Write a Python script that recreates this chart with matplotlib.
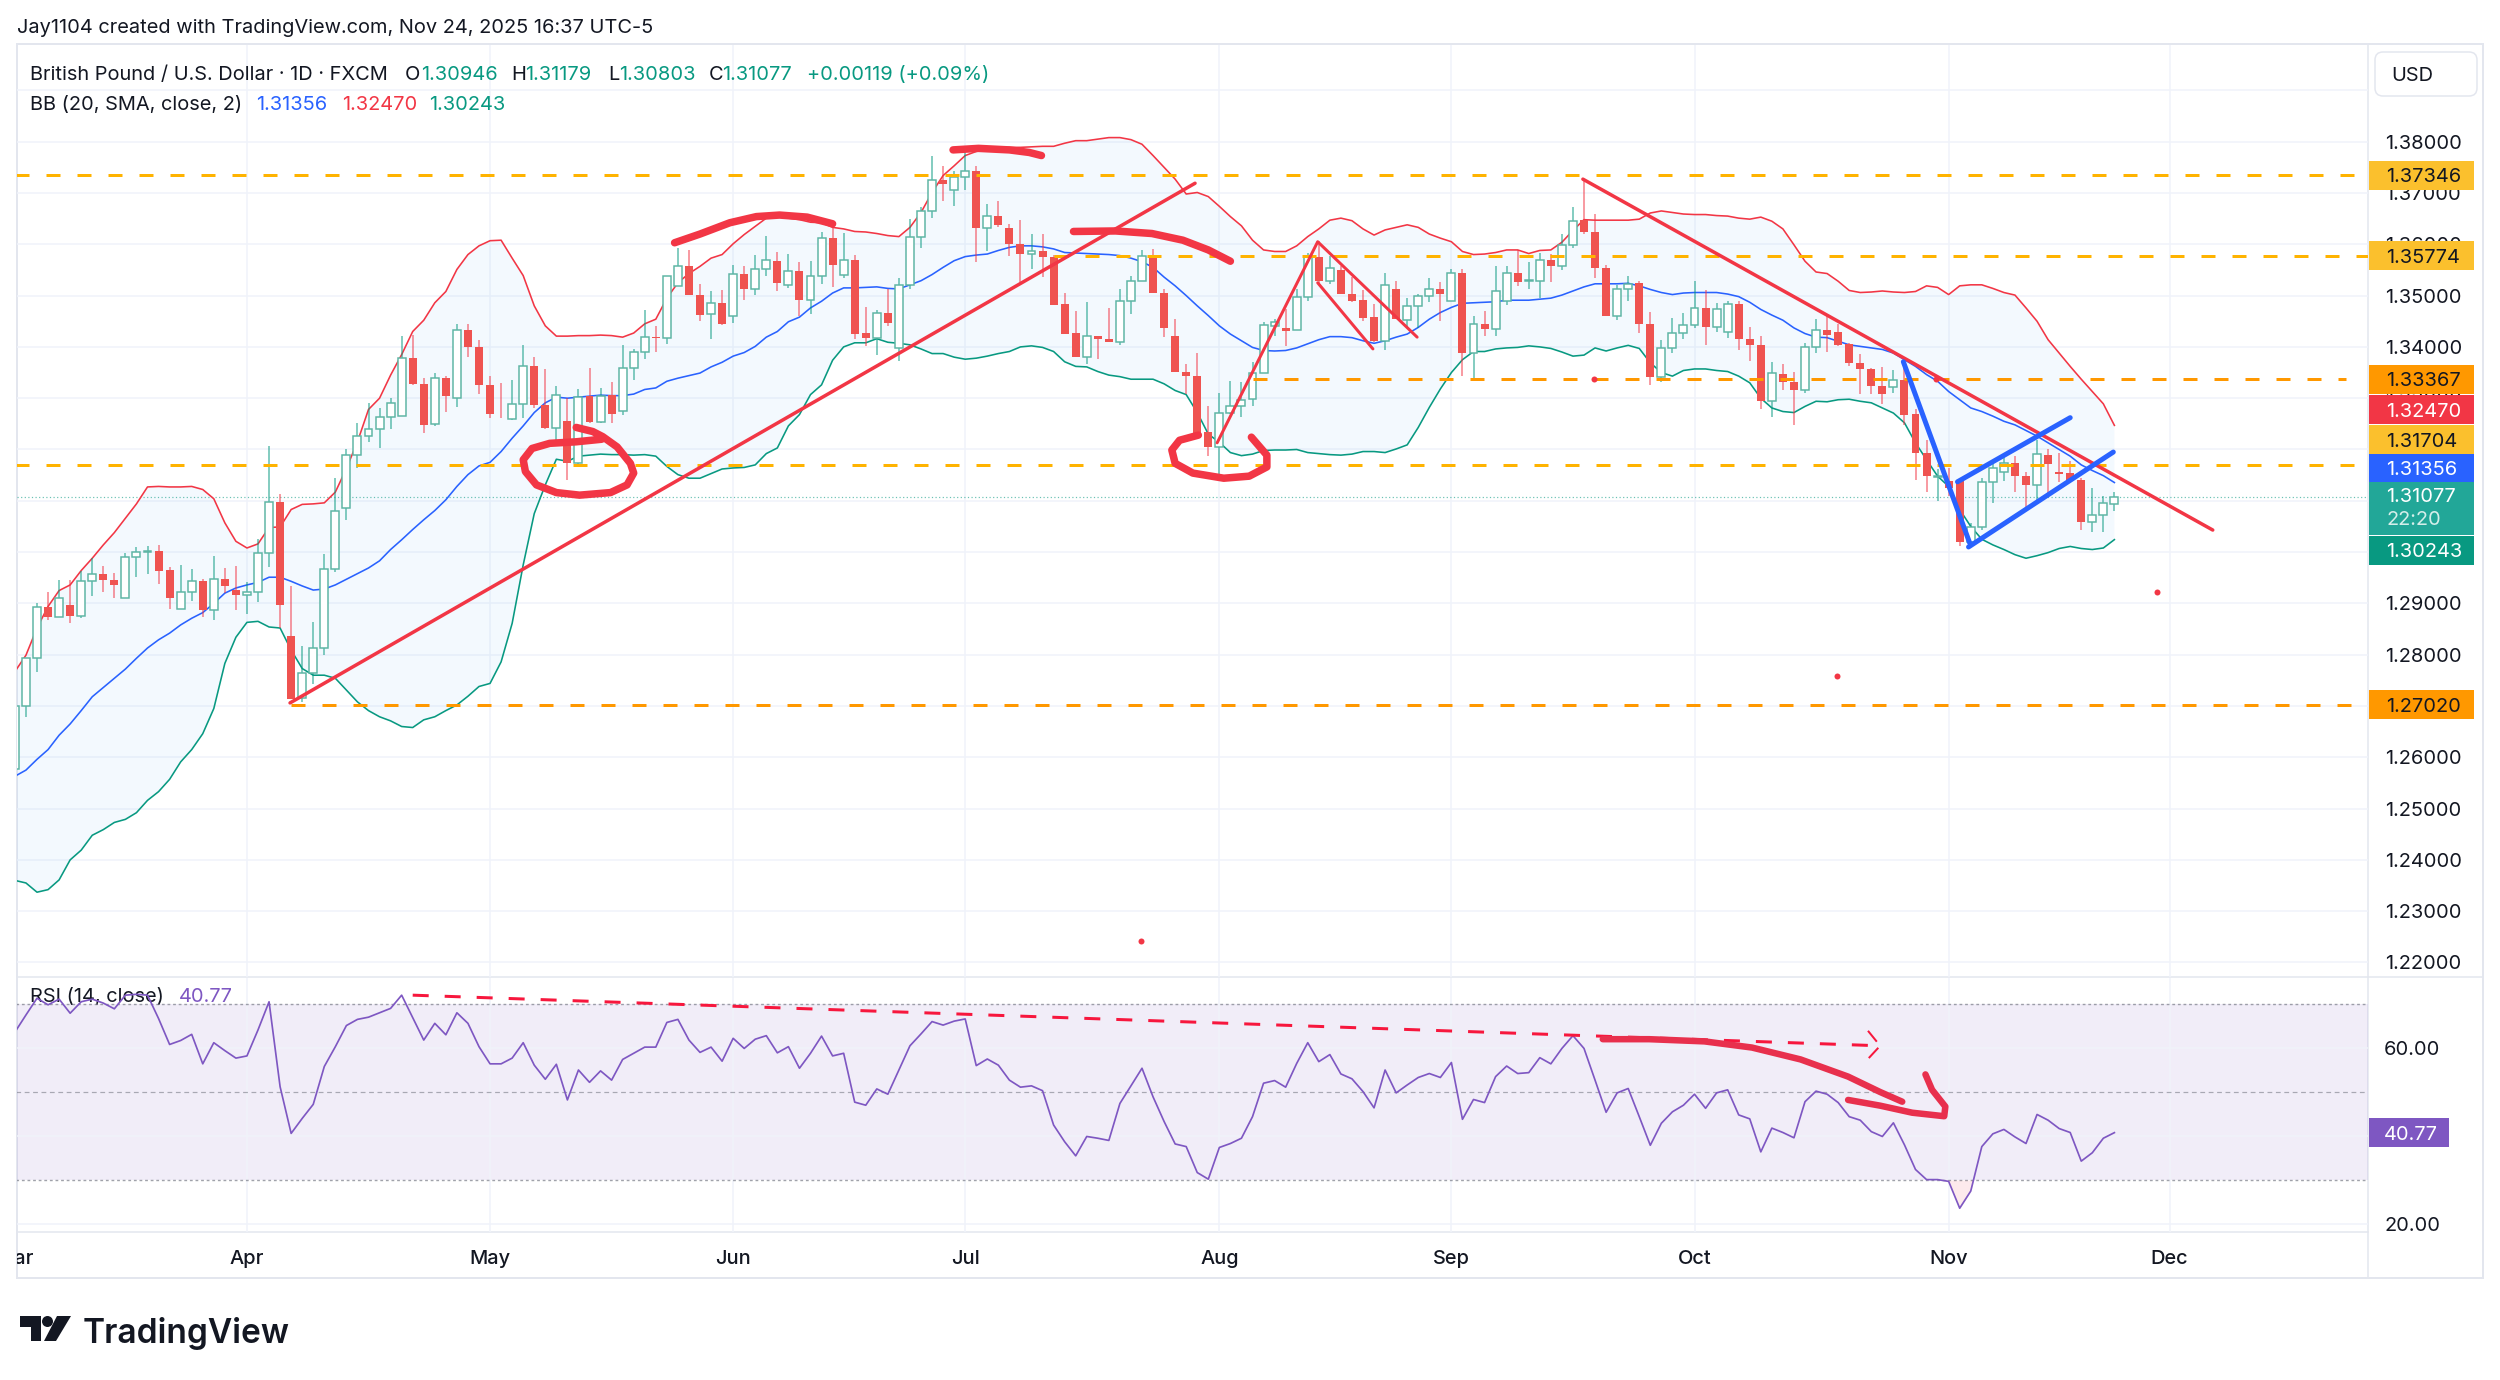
# plot.py - GBP/USD daily chart with Bollinger Bands, RSI and hand drawn markups

import numpy as np
import matplotlib
matplotlib.use("Agg")
import matplotlib.pyplot as plt
from matplotlib.patches import Polygon, Circle, Rectangle, FancyBboxPatch

plt.rcParams["font.family"] = ["Inter", "DejaVu Sans"]

W, H = 2500, 1380

# ── CANDLES (bar 0 = Apr 1, first row starts at bar -21) ───
opens = [
    1.2578,1.2700,1.2794,1.2893,1.2874,1.2896,1.2876,1.2943,1.2957,1.2945,
    1.2911,1.2990,1.3000,1.3003,1.2965,1.2889,1.2923,1.2943,1.2887,1.2947,
    1.2926,1.2917,1.2922,1.2998,1.3098,1.2837,1.2715,1.2764,1.2814,1.2967,
    1.3085,1.3189,1.3227,1.3239,1.3264,1.3265,1.3378,1.3328,1.3249,1.3339,
    1.3300,1.3432,1.3400,1.3325,1.3270,1.3260,1.3289,1.3362,1.3287,1.3242,
    1.3255,1.3174,1.3304,1.3253,1.3306,1.3276,1.3359,1.3391,1.3420,1.3417,
    1.3518,1.3557,1.3502,1.3464,1.3486,1.3461,1.3542,1.3513,1.3552,1.3568,
    1.3520,1.3548,1.3491,1.3538,1.3612,1.3540,1.3570,1.3427,1.3417,1.3466,
    1.3397,1.3521,1.3614,1.3664,1.3725,1.3706,1.3732,1.3743,1.3632,1.3656,
    1.3632,1.3601,1.3582,1.3586,1.3575,1.3484,1.3427,1.3380,1.3421,1.3415,
    1.3410,1.3489,1.3528,1.3579,1.3505,1.3421,1.3352,1.3344,1.3235,1.3204,
    1.3271,1.3284,1.3298,1.3349,1.3440,1.3436,1.3432,1.3498,1.3575,1.3529,
    1.3550,1.3503,1.3491,1.3458,1.3412,1.3513,1.3453,1.3479,1.3500,1.3513,
    1.3490,1.3544,1.3389,1.3445,1.3434,1.3489,1.3544,1.3528,1.3528,1.3570,
    1.3557,1.3599,1.3647,1.3623,1.3554,1.3460,1.3512,1.3525,1.3445,1.3341,
    1.3398,1.3427,1.3443,1.3476,1.3438,1.3430,1.3484,1.3415,1.3403,1.3295,
    1.3348,1.3332,1.3315,1.3400,1.3433,1.3429,1.3405,1.3369,1.3356,1.3324,
    1.3322,1.3336,1.3269,1.3194,1.3147,1.3139,1.3139,1.3019,1.3049,1.3137,
    1.3156,1.3174,1.3149,1.3131,1.3190,1.3157,1.3154,1.3141,1.3058,1.3072,1.30946,
]
highs = [
    1.2702,1.2794,1.2900,1.2923,1.2945,1.2946,1.2964,1.2988,1.2973,1.2960,
    1.2998,1.3009,1.3011,1.3014,1.2971,1.2975,1.2967,1.2948,1.2993,1.2969,
    1.2973,1.2941,1.3025,1.3207,1.3113,1.2934,1.2816,1.2864,1.2997,1.3144,
    1.3201,1.3252,1.3290,1.3280,1.3300,1.3422,1.3424,1.3339,1.3349,1.3343,
    1.3445,1.3445,1.3414,1.3344,1.3330,1.3336,1.3404,1.3380,1.3356,1.3323,
    1.3300,1.3317,1.3359,1.3320,1.3332,1.3404,1.3395,1.3471,1.3440,1.3539,
    1.3593,1.3588,1.3523,1.3508,1.3510,1.3560,1.3558,1.3580,1.3617,1.3585,
    1.3582,1.3565,1.3567,1.3624,1.3635,1.3622,1.3580,1.3478,1.3471,1.3512,
    1.3534,1.3649,1.3672,1.3773,1.3753,1.3742,1.3789,1.3753,1.3678,1.3684,
    1.3640,1.3647,1.3621,1.3621,1.3579,1.3506,1.3469,1.3488,1.3422,1.3476,
    1.3513,1.3539,1.3588,1.3591,1.3513,1.3454,1.3367,1.3389,1.3284,1.3311,
    1.3333,1.3332,1.3370,1.3448,1.3454,1.3474,1.3513,1.3584,1.3607,1.3578,
    1.3558,1.3536,1.3510,1.3484,1.3545,1.3529,1.3495,1.3504,1.3534,1.3526,
    1.3552,1.3552,1.3461,1.3469,1.3557,1.3558,1.3588,1.3565,1.3583,1.3582,
    1.3620,1.3672,1.3728,1.3660,1.3560,1.3521,1.3538,1.3529,1.3468,1.3413,
    1.3456,1.3467,1.3528,1.3510,1.3486,1.3490,1.3489,1.3439,1.3421,1.3371,
    1.3367,1.3352,1.3408,1.3455,1.3463,1.3445,1.3408,1.3387,1.3359,1.3361,
    1.3354,1.3375,1.3279,1.3218,1.3161,1.3164,1.3141,1.3057,1.3144,1.3177,
    1.3193,1.3187,1.3157,1.3219,1.3201,1.3193,1.3177,1.3144,1.3125,1.3110,1.31179,
]
lows = [
    1.2570,1.2679,1.2767,1.2867,1.2874,1.2861,1.2872,1.2915,1.2922,1.2911,
    1.2911,1.2951,1.2957,1.2937,1.2889,1.2889,1.2904,1.2874,1.2867,1.2920,
    1.2887,1.2880,1.2902,1.2970,1.2852,1.2714,1.2708,1.2743,1.2799,1.2962,
    1.3063,1.3164,1.3215,1.3203,1.3240,1.3265,1.3325,1.3233,1.3245,1.3274,
    1.3282,1.3380,1.3309,1.3262,1.3262,1.3258,1.3262,1.3281,1.3239,1.3211,
    1.3140,1.3166,1.3252,1.3251,1.3252,1.3267,1.3335,1.3377,1.3391,1.3406,
    1.3518,1.3502,1.3450,1.3415,1.3443,1.3447,1.3492,1.3502,1.3539,1.3508,
    1.3515,1.3460,1.3465,1.3523,1.3517,1.3534,1.3415,1.3401,1.3385,1.3441,
    1.3373,1.3513,1.3593,1.3652,1.3685,1.3675,1.3706,1.3565,1.3586,1.3633,
    1.3578,1.3526,1.3552,1.3536,1.3482,1.3425,1.3380,1.3367,1.3376,1.3409,
    1.3404,1.3464,1.3528,1.3505,1.3419,1.3352,1.3308,1.3233,1.3188,1.3144,
    1.3269,1.3263,1.3285,1.3349,1.3421,1.3402,1.3432,1.3490,1.3523,1.3523,
    1.3503,1.3488,1.3451,1.3409,1.3393,1.3454,1.3436,1.3436,1.3487,1.3450,
    1.3490,1.3344,1.3336,1.3421,1.3422,1.3482,1.3519,1.3512,1.3495,1.3526,
    1.3549,1.3593,1.3621,1.3534,1.3460,1.3453,1.3489,1.3428,1.3325,1.3331,
    1.3388,1.3415,1.3436,1.3403,1.3429,1.3417,1.3393,1.3372,1.3279,1.3263,
    1.3315,1.3248,1.3311,1.3388,1.3391,1.3401,1.3362,1.3308,1.3309,1.3289,
    1.3311,1.3248,1.3141,1.3118,1.3099,1.3109,1.3011,1.3018,1.3044,1.3096,
    1.3138,1.3117,1.3086,1.3102,1.3109,1.3136,1.3138,1.3044,1.3039,1.3039,1.30803,
]
closes = [
    1.2700,1.2794,1.2893,1.2874,1.2910,1.2876,1.2943,1.2957,1.2945,1.2935,
    1.2990,1.3001,1.3003,1.2964,1.2911,1.2923,1.2943,1.2887,1.2947,1.2933,
    1.2917,1.2922,1.2998,1.3098,1.2897,1.2714,1.2764,1.2814,1.2967,1.3081,
    1.3189,1.3227,1.3239,1.3263,1.3291,1.3378,1.3328,1.3248,1.3339,1.3304,
    1.3432,1.3399,1.3325,1.3270,1.3269,1.3289,1.3362,1.3287,1.3241,1.3306,
    1.3174,1.3302,1.3253,1.3305,1.3269,1.3359,1.3391,1.3419,1.3418,1.3539,
    1.3557,1.3502,1.3463,1.3486,1.3445,1.3542,1.3513,1.3552,1.3569,1.3524,
    1.3547,1.3491,1.3538,1.3612,1.3559,1.3570,1.3426,1.3417,1.3466,1.3447,
    1.3521,1.3614,1.3664,1.3725,1.3717,1.3732,1.3743,1.3632,1.3656,1.3638,
    1.3601,1.3581,1.3586,1.3575,1.3482,1.3425,1.3380,1.3421,1.3415,1.3409,
    1.3489,1.3528,1.3578,1.3505,1.3437,1.3352,1.3344,1.3233,1.3204,1.3272,
    1.3284,1.3297,1.3349,1.3443,1.3449,1.3431,1.3498,1.3575,1.3528,1.3553,
    1.3503,1.3490,1.3456,1.3412,1.3521,1.3454,1.3479,1.3500,1.3513,1.3503,
    1.3544,1.3389,1.3445,1.3434,1.3508,1.3544,1.3526,1.3530,1.3570,1.3557,
    1.3599,1.3645,1.3623,1.3554,1.3460,1.3512,1.3523,1.3445,1.3341,1.3398,
    1.3427,1.3443,1.3476,1.3438,1.3473,1.3484,1.3415,1.3403,1.3295,1.3350,
    1.3332,1.3315,1.3400,1.3433,1.3423,1.3404,1.3368,1.3356,1.3324,1.3309,
    1.3335,1.3268,1.3194,1.3148,1.3148,1.3125,1.3019,1.3049,1.3137,1.3163,
    1.3174,1.3148,1.3131,1.3191,1.3172,1.3153,1.3139,1.3058,1.3072,1.3096,1.31077,
]

# ── BOLLINGER BANDS ────────────────────────────────────────
bb_upper = [
    1.2767,1.2799,1.2852,1.2894,1.2925,1.2936,1.2964,1.2988,1.3014,1.3038,
    1.3066,1.3094,1.3127,1.3128,1.3127,1.3127,1.3128,1.3122,1.3104,1.3057,
    1.3021,1.3008,1.3016,1.3048,1.3049,1.3083,1.3093,1.3094,1.3096,1.3117,
    1.3163,1.3215,1.3278,1.3300,1.3345,1.3385,1.3430,1.3452,1.3486,1.3508,
    1.3551,1.3580,1.3597,1.3607,1.3608,1.3573,1.3539,1.3480,1.3441,1.3421,
    1.3421,1.3422,1.3422,1.3423,1.3422,1.3419,1.3427,1.3445,1.3454,1.3495,
    1.3525,1.3543,1.3557,1.3573,1.3580,1.3601,1.3619,1.3635,1.3651,1.3655,
    1.3651,1.3648,1.3643,1.3642,1.3633,1.3630,1.3625,1.3624,1.3621,1.3617,
    1.3615,1.3633,1.3662,1.3701,1.3734,1.3753,1.3773,1.3781,1.3787,1.3789,
    1.3789,1.3789,1.3790,1.3791,1.3791,1.3797,1.3802,1.3802,1.3805,1.3808,
    1.3808,1.3804,1.3795,1.3773,1.3750,1.3727,1.3698,1.3701,1.3693,1.3674,
    1.3654,1.3636,1.3608,1.3589,1.3586,1.3586,1.3597,1.3615,1.3630,1.3647,
    1.3651,1.3646,1.3630,1.3618,1.3628,1.3633,1.3638,1.3633,1.3620,1.3612,
    1.3605,1.3586,1.3580,1.3581,1.3584,1.3589,1.3589,1.3582,1.3588,1.3589,
    1.3604,1.3627,1.3648,1.3647,1.3647,1.3647,1.3647,1.3649,1.3661,1.3665,
    1.3662,1.3659,1.3658,1.3658,1.3656,1.3655,1.3651,1.3649,1.3653,1.3645,
    1.3630,1.3599,1.3567,1.3546,1.3543,1.3528,1.3510,1.3506,1.3507,1.3509,
    1.3507,1.3506,1.3508,1.3519,1.3516,1.3502,1.3519,1.3521,1.3521,1.3514,
    1.3506,1.3501,1.3476,1.3450,1.3414,1.3388,1.3362,1.3337,1.3313,1.3289,1.32470,
]
bb_mid = [
    1.2563,1.2575,1.2596,1.2615,1.2643,1.2665,1.2691,1.2718,1.2736,1.2754,
    1.2772,1.2793,1.2813,1.2829,1.2842,1.2858,1.2871,1.2882,1.2900,1.2920,
    1.2930,1.2936,1.2941,1.2951,1.2951,1.2943,1.2934,1.2926,1.2928,1.2936,
    1.2947,1.2958,1.2969,1.2983,1.3005,1.3024,1.3044,1.3063,1.3081,1.3102,
    1.3128,1.3151,1.3168,1.3175,1.3196,1.3222,1.3246,1.3272,1.3291,1.3302,
    1.3300,1.3302,1.3304,1.3306,1.3305,1.3305,1.3308,1.3317,1.3320,1.3333,
    1.3339,1.3344,1.3349,1.3361,1.3370,1.3382,1.3389,1.3401,1.3419,1.3430,
    1.3449,1.3458,1.3476,1.3489,1.3505,1.3515,1.3515,1.3516,1.3517,1.3514,
    1.3513,1.3521,1.3529,1.3541,1.3555,1.3568,1.3576,1.3579,1.3581,1.3588,
    1.3594,1.3597,1.3597,1.3595,1.3591,1.3584,1.3583,1.3582,1.3581,1.3580,
    1.3578,1.3573,1.3566,1.3555,1.3536,1.3519,1.3500,1.3480,1.3461,1.3441,
    1.3425,1.3412,1.3399,1.3393,1.3392,1.3393,1.3398,1.3406,1.3414,1.3420,
    1.3420,1.3418,1.3412,1.3407,1.3412,1.3419,1.3425,1.3438,1.3454,1.3467,
    1.3477,1.3485,1.3486,1.3487,1.3488,1.3491,1.3491,1.3491,1.3493,1.3495,
    1.3501,1.3509,1.3517,1.3523,1.3523,1.3523,1.3524,1.3519,1.3512,1.3506,
    1.3502,1.3505,1.3506,1.3506,1.3506,1.3503,1.3498,1.3487,1.3473,1.3462,
    1.3452,1.3437,1.3426,1.3419,1.3418,1.3411,1.3404,1.3401,1.3398,1.3395,
    1.3388,1.3375,1.3362,1.3346,1.3333,1.3313,1.3297,1.3281,1.3274,1.3265,
    1.3255,1.3248,1.3237,1.3226,1.3213,1.3200,1.3187,1.3170,1.3159,1.3149,1.31356,
]
bb_lower = [
    1.2360,1.2355,1.2337,1.2342,1.2361,1.2400,1.2419,1.2448,1.2459,1.2473,
    1.2479,1.2492,1.2516,1.2533,1.2557,1.2591,1.2615,1.2646,1.2695,1.2783,
    1.2834,1.2863,1.2865,1.2854,1.2852,1.2809,1.2773,1.2760,1.2760,1.2754,
    1.2731,1.2708,1.2691,1.2679,1.2671,1.2660,1.2658,1.2673,1.2679,1.2691,
    1.2702,1.2719,1.2738,1.2744,1.2786,1.2861,1.2975,1.3075,1.3131,1.3181,
    1.3177,1.3187,1.3189,1.3191,1.3190,1.3190,1.3189,1.3190,1.3187,1.3167,
    1.3151,1.3144,1.3144,1.3153,1.3162,1.3164,1.3165,1.3170,1.3192,1.3203,
    1.3246,1.3268,1.3307,1.3326,1.3374,1.3400,1.3408,1.3408,1.3416,1.3409,
    1.3407,1.3404,1.3396,1.3387,1.3387,1.3380,1.3376,1.3378,1.3382,1.3387,
    1.3391,1.3400,1.3402,1.3399,1.3391,1.3371,1.3362,1.3361,1.3352,1.3345,
    1.3342,1.3337,1.3337,1.3337,1.3328,1.3315,1.3307,1.3272,1.3230,1.3214,
    1.3194,1.3188,1.3191,1.3198,1.3199,1.3199,1.3200,1.3194,1.3192,1.3190,
    1.3189,1.3191,1.3196,1.3196,1.3194,1.3201,1.3209,1.3243,1.3282,1.3318,
    1.3350,1.3375,1.3391,1.3391,1.3396,1.3398,1.3399,1.3402,1.3400,1.3397,
    1.3390,1.3382,1.3384,1.3398,1.3392,1.3398,1.3403,1.3397,1.3369,1.3350,
    1.3343,1.3354,1.3357,1.3357,1.3354,1.3352,1.3343,1.3330,1.3300,1.3281,
    1.3274,1.3272,1.3284,1.3294,1.3293,1.3297,1.3298,1.3294,1.3291,1.3281,
    1.3271,1.3252,1.3213,1.3180,1.3148,1.3128,1.3083,1.3050,1.3025,1.3014,
    1.3005,1.2995,1.2988,1.2993,1.2999,1.3007,1.3011,1.3007,1.3005,1.3008,1.30243,
]

# ── RSI ────────────────────────────────────────────────────
rsi = [
    63.6,67.5,71.3,69.8,71.1,67.9,70.5,71.1,70.2,68.9,
    72.0,72.2,72.0,66.7,60.8,61.7,63.1,56.4,61.2,59.4,
    57.7,58.2,64.1,70.5,51.2,40.6,44.0,47.2,55.8,60.3,
    65.1,66.5,67.0,68.0,69.0,72.0,66.9,61.8,65.6,63.0,
    68.0,65.6,60.3,56.4,56.4,57.7,61.2,56.1,52.9,56.3,
    48.2,55.0,52.2,54.8,52.7,57.4,58.8,60.2,60.2,65.8,
    66.5,61.8,59.0,60.2,57.0,62.2,59.9,62.0,62.8,58.9,
    60.3,55.4,58.8,62.7,58.2,58.8,47.7,47.0,50.7,49.5,
    55.0,60.5,63.2,66.0,65.2,66.1,66.6,56.0,57.5,56.1,
    52.7,51.1,51.4,50.3,42.5,38.7,35.5,39.9,39.5,39.0,
    47.4,51.4,55.4,48.9,43.3,38.2,37.6,31.7,30.2,37.4,
    38.3,39.5,44.4,52.0,52.6,51.1,56.5,61.2,56.9,58.5,
    54.1,53.0,50.1,46.4,55.0,49.8,51.6,53.3,54.2,53.3,
    56.7,43.8,48.3,47.6,53.5,55.9,54.2,54.4,57.8,56.4,
    59.9,62.8,59.9,52.7,45.4,49.8,50.8,44.4,37.9,42.9,
    45.5,47.0,49.5,46.3,49.8,50.5,44.8,43.9,36.4,41.8,
    40.8,39.6,47.8,50.2,49.5,47.6,44.4,43.6,41.0,39.9,
    43.0,38.0,32.4,30.1,30.1,29.7,23.6,27.5,37.6,40.5,
    41.5,39.8,38.3,44.9,43.6,41.7,40.8,34.3,36.2,39.5,40.77,
]

# ── AXIS LABELS ────────────────────────────────────────────
month_bars = [-21, 0, 22, 44, 65, 88, 109, 131, 154, 174]
month_names = ["Mar", "Apr", "May", "Jun", "Jul", "Aug", "Sep", "Oct", "Nov", "Dec"]
price_ticks = [1.38, 1.37, 1.36, 1.35, 1.34, 1.33, 1.29, 1.28, 1.26, 1.25, 1.24, 1.23, 1.22]
price_grid = [1.39, 1.38, 1.37, 1.36, 1.35, 1.34, 1.33, 1.32, 1.31, 1.30, 1.29, 1.28,
              1.27, 1.26, 1.25, 1.24, 1.23, 1.22]
rsi_ticks = [60, 20]

# ── DRAWINGS (bar, price) ──────────────────────────────────
level_prices = [1.37346, 1.35774, 1.33367, 1.31704, 1.27020]
level_start = [-21, 73, 91, -21, 4]
level_end = [191, 192, 190, 191, 192]
level_colors = ["#FFB300", "#FFB300", "#FF9800", "#FFB300", "#FF9800"]

up_line_bars, up_line_prices = [3.9, 85.8], [1.2706, 1.3719]
down_line_bars, down_line_prices = [120.9, 177.9], [1.3727, 1.3043]
zig1_bars, zig1_prices = [87.8, 96.9, 105.9], [1.3213, 1.3605, 1.3419]
zig2_bars, zig2_prices = [96.9, 101.9], [1.3525, 1.3396]
blue1_bars, blue1_prices = [149.9, 155.9], [1.3371, 1.3018]
blue2_bars, blue2_prices = [154.8, 165.0], [1.3137, 1.3262]
blue3_bars, blue3_prices = [155.8, 168.9], [1.3010, 1.3195]

brush_top_bars = [63.9, 66.2, 69.0, 70.8, 71.9]
brush_top_prices = [1.3784, 1.3787, 1.3784, 1.3779, 1.3773]
brush_arc_bars = [38.7, 41.0, 43.7, 46.1, 48.2, 50.7, 53.0]
brush_arc_prices = [1.3603, 1.3620, 1.3642, 1.3654, 1.3657, 1.3653, 1.3640]
brush_jul_bars = [74.8, 78.6, 81.9, 84.7, 87.0, 89.0]
brush_jul_prices = [1.3625, 1.3626, 1.3621, 1.3608, 1.3589, 1.3567]
circle_may_bars = [29.8, 31.3, 32.2, 33.5, 34.7, 35.0, 34.4, 32.9, 30.1, 28.0, 26.2,
                   25.2, 25.0, 25.8, 27.4, 29.8, 32.1]
circle_may_prices = [1.3243, 1.3235, 1.3225, 1.3205, 1.3173, 1.3154, 1.3131, 1.3116, 1.3111,
                     1.3116, 1.3131, 1.3157, 1.3180, 1.3202, 1.3212, 1.3215, 1.3220]
circle_aug_bars = [86.1, 84.4, 83.7, 84.0, 85.6, 88.4, 90.7, 92.3, 92.3, 90.9]
circle_aug_prices = [1.3228, 1.3218, 1.3199, 1.3173, 1.3154, 1.3144, 1.3148, 1.3166, 1.3189, 1.3224]
dot_bars = [172.9, 143.9, 80.9, 121.9, 152.9]
dot_prices = [1.2923, 1.2758, 1.2242, 1.3338, 1.3338]

rsi_dash_bars, rsi_dash_vals = [15, 147.8], [72.0, 60.5]
rsi_head_bars, rsi_head_vals = [146.7, 147.8, 146.4], [63.9, 60.5, 56.7]
rsi_curve_bars = [122.7, 126.9, 131.9, 136.2, 140.6, 144.9, 147.8, 149.8]
rsi_curve_vals = [62.0, 62.0, 61.5, 60.1, 57.4, 53.5, 50.0, 47.8]
rsi_arrow_bars = [144.9, 147.8, 150.7, 153.6, 153.7, 152.5, 151.9]
rsi_arrow_vals = [48.2, 46.9, 45.3, 44.5, 46.7, 50.5, 54.0]

# ── PRICE SCALE TAGS ───────────────────────────────────────
tag_labels = ["1.37346", "1.35774", "1.33367", "1.32470", "1.31704", "1.31356", "1.30243", "1.27020"]
tag_centers = [1.37346, 1.35774, 1.33367, 1.3277, 1.3219, 1.3163, 1.3004, 1.27020]
tag_fills = ["#FBC02D", "#FBC02D", "#FF9800", "#F23645", "#FBC02D", "#2962FF", "#089981", "#FF9800"]
tag_texts = ["#131722", "#131722", "#131722", "#FFFFFF", "#131722", "#FFFFFF", "#FFFFFF", "#131722"]

bars = np.arange(len(closes)) - 21
opens, highs, lows, closes = map(np.array, (opens, highs, lows, closes))
rsi = np.array(rsi)

UP, DOWN = "#089981", "#EF5350"
RED, BLUE = "#F23645", "#2962FF"
GRID, EDGE = "#F0F3FA", "#E3E6EE"
INK = "#131722"
PX = 0.72  # points per pixel at dpi 100
FS = 20 * PX
VA = "center_baseline"


def pane(x0, y0, x1, y1):
    a = fig.add_axes([x0 / W, 1 - y1 / H, (x1 - x0) / W, (y1 - y0) / H])
    a.set_xticks([])
    a.set_yticks([])
    for s in a.spines.values():
        s.set_visible(False)
    a.patch.set_alpha(0)
    return a


def stroke(a, xs, ys, color=RED, width=7.5):
    a.plot(xs, ys, color=color, lw=width * PX, solid_capstyle="round",
           solid_joinstyle="round", zorder=7)


fig = plt.figure(figsize=(W / 100, H / 100), dpi=100, facecolor="white")

# ── PAGE CHROME (pixel coordinates) ────────────────────────
page = pane(0, 0, W, H)
page.set_xlim(0, W)
page.set_ylim(H, 0)
page.add_patch(Rectangle((17, 44), 2466, 1234, fc="white", ec=EDGE, lw=2 * PX))
page.plot([2368, 2368], [44, 1278], color=EDGE, lw=1.5 * PX)
page.plot([17, 2483], [977, 977], color=EDGE, lw=1.5 * PX)
page.plot([17, 2368], [1232, 1232], color=EDGE, lw=1.5 * PX)
page.text(17, 26, "Jay1104 created with TradingView.com, Nov 24, 2025 16:37 UTC-5",
          fontsize=FS, color=INK, va=VA)
page.add_patch(FancyBboxPatch((2381, 58), 90, 32, boxstyle="round,pad=6,rounding_size=8",
                              fc="white", ec=EDGE, lw=1.5 * PX))
page.text(2391, 74, "USD", fontsize=FS, color=INK, va=VA)

# TradingView logo
page.add_patch(Polygon([(20, 1316), (41, 1316), (41, 1341), (31, 1341), (31, 1327), (20, 1327)],
                       fc=INK, ec="none"))
page.add_patch(Circle((47.5, 1321.5), 5.5, fc=INK, ec="none"))
page.add_patch(Polygon([(57, 1316), (71, 1316), (56, 1341), (44, 1341)], fc=INK, ec="none"))
page.text(83, 1330, "TradingView", fontsize=33.5 * PX, color=INK, va=VA, fontweight="semibold")

# ── PRICE PANE ─────────────────────────────────────────────
ax = pane(17, 45, 2368, 977)
ax.set_xlim(-20.81, 191.95)
ax.set_ylim(1.21717, 1.39885)
ax.hlines(price_grid, -30, 200, color=GRID, lw=1.5 * PX, zorder=0)
ax.vlines(month_bars, 1.2, 1.4, color=GRID, lw=1.5 * PX, zorder=0)

# Band fill as one polygon, the bands share the same bars
ax.fill(np.r_[bars, bars[::-1]], np.r_[bb_upper, bb_lower[::-1]], color="#2196F3", alpha=0.05,
        lw=0, zorder=1)
ax.axhline(closes[-1], color=UP, lw=1.2 * PX, ls=(0, (1, 2)), alpha=0.6, zorder=1)
ax.plot(bars, bb_upper, color=RED, lw=1.6 * PX, zorder=2)
ax.plot(bars, bb_mid, color=BLUE, lw=1.6 * PX, zorder=2)
ax.plot(bars, bb_lower, color=UP, lw=1.6 * PX, zorder=2)

# Candles
rising = closes >= opens
falling = ~rising
ax.vlines(bars[rising], lows[rising], highs[rising], color=UP, lw=1.5 * PX, alpha=0.65, zorder=3)
ax.vlines(bars[falling], lows[falling], highs[falling], color=RED, lw=1.5 * PX, alpha=0.65, zorder=3)
ax.bar(bars[rising], (closes - opens)[rising], bottom=opens[rising], width=0.72,
       facecolor="white", edgecolor="#5DB5A4", lw=1.5 * PX, zorder=4)
ax.bar(bars[falling], (opens - closes)[falling], bottom=closes[falling], width=0.72,
       color=DOWN, lw=0, zorder=4)

# Horizontal levels
for p, x0, x1, c in zip(level_prices, level_start, level_end, level_colors):
    ax.plot([x0, x1], [p, p], color=c, lw=3 * PX, dashes=(14 / 3, 17 / 3),
            dash_capstyle="butt", zorder=5)

# Trend lines and flags
stroke(ax, up_line_bars, up_line_prices, width=3.5)
stroke(ax, down_line_bars, down_line_prices, width=3.5)
stroke(ax, zig1_bars, zig1_prices, width=3.0)
stroke(ax, zig2_bars, zig2_prices, width=3.0)
stroke(ax, blue1_bars, blue1_prices, color=BLUE, width=5)
stroke(ax, blue2_bars, blue2_prices, color=BLUE, width=5)
stroke(ax, blue3_bars, blue3_prices, color=BLUE, width=5)

# Brush marks
stroke(ax, brush_top_bars, brush_top_prices)
stroke(ax, brush_arc_bars, brush_arc_prices)
stroke(ax, brush_jul_bars, brush_jul_prices)
stroke(ax, circle_may_bars, circle_may_prices)
stroke(ax, circle_aug_bars, circle_aug_prices)
ax.plot(dot_bars, dot_prices, "o", color=RED, ms=6 * PX, mew=0, zorder=7)

# Legend text
ax_legend_y1, ax_legend_y2 = 73, 103
page_legend = [
    (30, ax_legend_y1, "British Pound / U.S. Dollar · 1D · FXCM", INK),
    (405, ax_legend_y1, "O", INK), (421, ax_legend_y1, "1.30946", UP),
    (511, ax_legend_y1, "H", INK), (525, ax_legend_y1, "1.31179", UP),
    (608, ax_legend_y1, "L", INK), (619, ax_legend_y1, "1.30803", UP),
    (709, ax_legend_y1, "C", INK), (722, ax_legend_y1, "1.31077", UP),
    (807, ax_legend_y1, "+0.00119 (+0.09%)", UP),
    (30, ax_legend_y2, "BB (20, SMA, close, 2)", INK),
    (256, ax_legend_y2, "1.31356", BLUE), (342, ax_legend_y2, "1.32470", RED),
    (429, ax_legend_y2, "1.30243", UP),
]
over = pane(0, 0, W, H)
over.set_xlim(0, W)
over.set_ylim(H, 0)
for x, y, s, c in page_legend:
    over.text(x, y, s, fontsize=FS, color=c, va=VA)
over.text(30, 995, "RSI (14, close)", fontsize=FS, color=INK, va=VA)
over.text(179, 995, "40.77", fontsize=FS, color="#7E57C2", va=VA)

# ── PRICE SCALE ────────────────────────────────────────────
scale = pane(2369, 45, 2483, 977)
scale.set_xlim(0, 114)
scale.set_ylim(ax.get_ylim())
for t in price_ticks:
    scale.text(16, t, f"{t:.5f}", fontsize=FS, color=INK, va=VA, clip_on=True)
scale.barh(tag_centers, 105, height=29 / 5130, color=tag_fills, lw=0, zorder=3)
for c, s, tc in zip(tag_centers, tag_labels, tag_texts):
    scale.text(17, c, s, fontsize=FS, color=tc, va=VA, zorder=4)
scale.barh(1.3085, 105, height=53 / 5130, color="#22A798", lw=0, zorder=3)
scale.text(17, 1.3112, "1.31077", fontsize=FS, color="white", va=VA, zorder=4)
scale.text(17, 1.3067, "22:20", fontsize=FS, color="#D5EEEA", va=VA, zorder=4)

# ── RSI PANE ───────────────────────────────────────────────
ax_rsi = pane(17, 978, 2368, 1232)
ax_rsi.set_xlim(ax.get_xlim())
ax_rsi.set_ylim(18.2, 75.9)
ax_rsi.hlines([60, 40, 20], -30, 200, color=GRID, lw=1.5 * PX, zorder=1)
ax_rsi.vlines(month_bars, 0, 100, color=GRID, lw=1.5 * PX, zorder=1)
ax_rsi.axhspan(30, 70, color="#7E57C2", alpha=0.1, lw=0, zorder=0)
ax_rsi.hlines([70, 30], -30, 200, color="#787B86", lw=1.4 * PX, linestyles=(0, (2, 2)), alpha=0.7, zorder=2)
ax_rsi.hlines([50], -30, 200, color="#787B86", lw=1.2 * PX, linestyles=(0, (4, 3)), alpha=0.6, zorder=2)
ax_rsi.fill_between(bars, rsi, 30, where=rsi < 30, interpolate=True, color=RED, alpha=0.1, lw=0, zorder=2)
ax_rsi.plot(bars, rsi, color="#7E57C2", lw=1.7 * PX, zorder=3)
ax_rsi.plot(rsi_dash_bars, rsi_dash_vals, color="#F7173D", lw=3 * PX, dashes=(16 / 3, 16 / 3),
            dash_capstyle="butt", zorder=6)
ax_rsi.plot(rsi_head_bars, rsi_head_vals, color="#F7173D", lw=2 * PX, dashes=(7, 4),
            dash_capstyle="butt", zorder=6)
stroke(ax_rsi, rsi_curve_bars, rsi_curve_vals, color="#E8304D", width=6.5)
stroke(ax_rsi, rsi_arrow_bars, rsi_arrow_vals, color="#E8304D", width=6.5)

scale_rsi = pane(2369, 978, 2483, 1232)
scale_rsi.set_xlim(0, 114)
scale_rsi.set_ylim(ax_rsi.get_ylim())
for t in rsi_ticks:
    scale_rsi.text(15, t, f"{t:.2f}", fontsize=FS, color=INK, va=VA, clip_on=True)
scale_rsi.barh(rsi[-1], 80, height=29 / 4.4, color="#7E57C2", lw=0)
scale_rsi.text(15, rsi[-1], "40.77", fontsize=FS, color="white", va=VA)

# ── TIME SCALE ─────────────────────────────────────────────
ax_time = pane(17, 1233, 2368, 1277)
ax_time.set_xlim(ax.get_xlim())
ax_time.set_ylim(0, 1)
for b, name in zip(month_bars, month_names):
    ax_time.text(b, 0.45, name, fontsize=FS, color=INK, fontweight="medium", ha="center", va=VA, clip_on=True)

fig.savefig("out.png", dpi=100)
